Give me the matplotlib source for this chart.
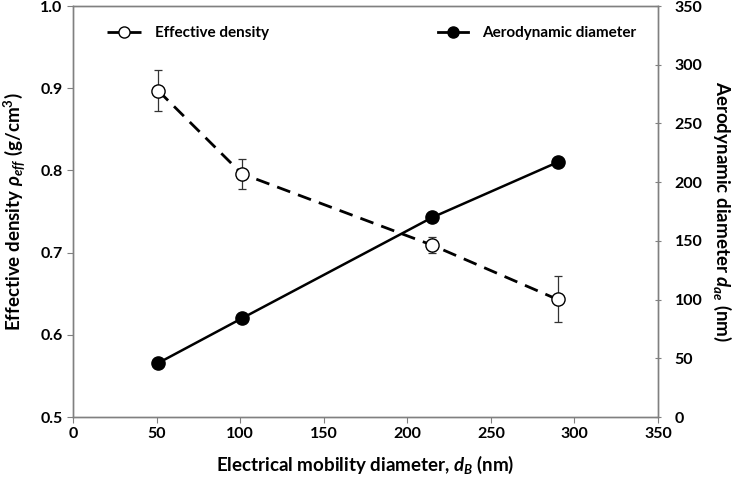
import matplotlib
matplotlib.use("Agg")
import matplotlib.pyplot as plt
from matplotlib.lines import Line2D

plt.rcParams['font.family'] = ['Lato', 'DejaVu Sans']
plt.rcParams['font.weight'] = 'bold'
plt.rcParams['mathtext.fontset'] = 'custom'
plt.rcParams['mathtext.rm'] = 'Lato:bold'
plt.rcParams['mathtext.it'] = 'Lato:italic:bold'
plt.rcParams['mathtext.bf'] = 'Lato:bold'

# data
mobility_d = [51, 101, 215, 290]
eff_density = [0.897, 0.796, 0.709, 0.643]
eff_density_err = [0.025, 0.018, 0.010, 0.028]
aero_d = [46, 84, 170, 217]

fig = plt.figure(figsize=(7.33, 4.79), dpi=100)
ax1 = fig.add_axes([0.0996, 0.1294, 0.798, 0.858])
ax2 = ax1.twinx()

ax1.errorbar(mobility_d, eff_density, yerr=eff_density_err, fmt='none',
             ecolor='#333333', elinewidth=0.9, capsize=3, capthick=0.9, zorder=2)
ax1.plot(mobility_d, eff_density, 'o', color='black', markerfacecolor='white',
         markeredgecolor='black', markeredgewidth=1.0, markersize=9.5,
         linestyle=(0, (5, 3)), linewidth=2.0, zorder=3)
ax2.plot(mobility_d, aero_d, 'o-', color='black', markersize=9.5, linewidth=1.8)

ax1.set_xlim(0, 350)
ax1.set_ylim(0.5, 1.0)
ax2.set_ylim(0, 350)
ax1.set_xticks(range(0, 351, 50))
ax1.set_yticks([0.5, 0.6, 0.7, 0.8, 0.9, 1.0])
ax1.set_yticklabels(['0.5', '0.6', '0.7', '0.8', '0.9', '1.0'])
ax2.set_yticks(range(0, 351, 50))

for ax in (ax1, ax2):
    for sp in ax.spines.values():
        sp.set_color('#808080')
        sp.set_linewidth(1.0)
ax1.tick_params(axis='both', labelsize=11.5, color='#808080', length=4, direction='out')
ax2.tick_params(axis='y', labelsize=11.5, color='#808080', length=4, direction='inout', pad=10)

ax1.set_xlabel('Electrical mobility diameter, $d_B$ (nm)', fontsize=13.5, fontweight='bold', labelpad=9)
ax1.set_ylabel(r'Effective density $\rho_{eff}$ (g/cm$^3$)', fontsize=13.5, fontweight='bold', labelpad=9)
ax2.set_ylabel('Aerodynamic diameter $d_{ae}$ (nm)', fontsize=13.5, fontweight='bold',
               rotation=270, labelpad=22)

h1 = Line2D([], [], color='black', marker='o', markerfacecolor='white', markersize=8,
            linestyle=(0, (5, 3)), linewidth=2.0)
h2 = Line2D([], [], color='black', marker='o', markersize=8, linewidth=2.0)
ax1.legend([h1], ['Effective density'], loc='upper left', bbox_to_anchor=(0.035, 0.985),
           frameon=False, fontsize=11, handlelength=2.2, handletextpad=0.9)
ax2.legend([h2], ['Aerodynamic diameter'], loc='upper left', bbox_to_anchor=(0.6, 0.985),
           frameon=False, fontsize=11, handlelength=2.0, handletextpad=0.9)

fig.savefig('out.png', dpi=100, facecolor='white')
